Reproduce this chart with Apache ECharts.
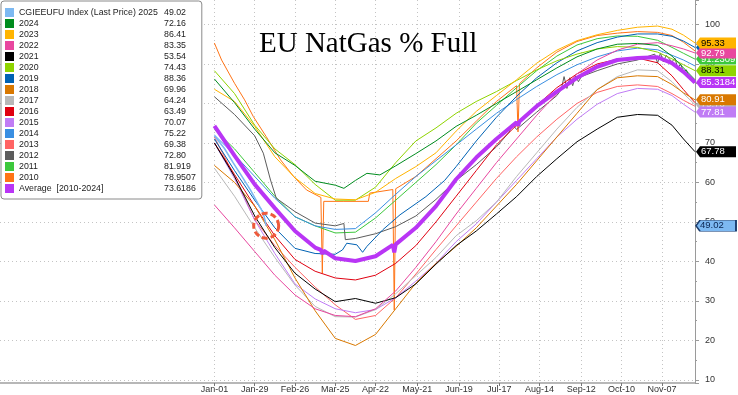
<!DOCTYPE html>
<html><head><meta charset="utf-8">
<script src="https://cdn.jsdelivr.net/npm/echarts@6/dist/echarts.min.js"></script>
<style>html,body{margin:0;padding:0;background:#fff}#c{width:738px;height:395px}</style>
</head><body><div id="c"></div>
<script>
// ---- axis / categories ----
const OFFSET = 149;          // empty days shown left of Jan-01
const LAST_DAY = 334;
const tickDays   = [0,28,56,84,112,141,170,198,226,255,283,311];
const tickLabels = ['Jan-01','Jan-29','Feb-26','Mar-25','Apr-22','May-21','Jun-19','Jul-17','Aug-14','Sep-12','Oct-10','Nov-07'];

// ---- series data (day of year, % full) ----
const D = [0,14,28,42,56,70,84,98,112,126,140,154,168,182,196,210,224,238,252,266,280,294,308,318,326,334];

const d2025 = [0,7,13,19,25,30,34,36];
const v2025 = [71.8,68.6,65,61.6,58.1,54.8,52.2,49.02];

const d2024 = [0,14,28,42,56,70,84,90,98,106,115,126,140,154,168,182,196,210,224,238,252,266,280,294,308,318,326,334];
const v2024 = [86.2,80.2,73.5,67.5,64.3,60.3,59.3,58.5,60.5,62.3,61.9,64.2,67.3,70.5,74.2,77,80,83,86,89,91.8,93.8,95,95.2,94.7,92,89,86];

const v2023 = [83.6,80.5,74.2,66.5,61.2,57.2,55.8,55.6,57.5,61,64,67.5,73,78,82,86,90.2,93.5,95.9,97.4,98.5,99.3,99.6,98.8,97.3,95.33];
const v2022 = [54.3,48.5,42.5,36.5,31.5,28,26.3,26,28,32.5,38.5,45,52,58.5,65,71,77,82.5,87.5,91,93.5,95,95.4,94.6,93.8,92.79];
const v2021 = [70,61.5,51.5,43.5,37,33,29.8,30.6,29.4,30.8,34.3,39.3,44,47.7,52,56.4,61.5,66,70.3,73.5,76.5,77.2,77,74.5,71,67.78];
const v2020 = [88.3,82.5,74.5,68.5,64.5,59.5,55.5,55.5,58.8,65,70.5,73.8,77.5,80.5,83,85.8,88.5,90.8,92.5,93.8,94.4,94.2,93,91.3,89.8,88.31];

const d2019 = [0,14,28,42,56,70,84,89,92,99,103,106,117,129,147,160,168,182,196,210,224,238,252,266,280,294,308,318,326,334];
const v2019 = [71,63,55.5,48.5,43.3,42,41.8,42.9,44.6,44.2,42.3,43.8,48,51.8,56.4,60.5,64,70.5,76.5,81.8,86.5,90.3,93.3,95.4,96.8,97.6,97.6,97,95.8,94.18];

const v2018 = [64.3,60,54,45.5,35.8,27.5,20.5,18.7,21.5,28,34.5,39.5,43.8,48.5,54,59.5,65.5,71.5,77.5,83.5,86.5,87,86.8,84.8,82.7,80.91];
const v2017 = [63.6,56.5,48.5,41,34,28.6,26,25.9,27.8,31.8,36.4,41,46.5,50.3,55,61.5,67.5,73.5,79,83.5,86.8,88.5,88.3,85.5,82.5,79.7];
const v2016 = [70,62,54,46.5,40.5,37.5,35.8,35.3,36.5,39.5,44,50,56.5,63,69.5,74.5,79.5,84,87.5,90,91.2,91.5,90.3,87,83.5,80.2];
const v2015 = [70,61,50.5,42,34.3,30.5,28,27,27.8,30.8,35,39.5,45,49.5,55,60.5,66,71.5,76,79.8,82.5,83.8,83.6,82,79.8,77.81];
const v2014 = [72,67,61.5,56,51.3,49,48.1,48.3,52.3,57,61.5,65.5,69.5,73.5,77.5,81,84.3,87.3,89.8,91.8,93.3,94,93.6,92.2,91,89.5];
const v2013 = [71.5,61.5,50.5,44,38.5,33.5,29,25.3,26.3,30.8,36.8,43,49,55,61,66.5,71.5,76,80,82.8,84.3,84.7,84.3,82.5,80.8,79.3];

const d2012 = [0,14,28,34,39,43,56,70,84,90,91,98,112,126,140,154,168,182,196,205,207,210,224,238,241,243,245,247,249,251,253,255,266,280,294,306,308,310,312,314,318,320,322,324,326,328,330,334];
const v2012 = [81.7,77.2,71.8,67.4,60.6,56,52.6,49.7,49,49.6,45.5,45.8,47,48.8,51.5,55.7,60.5,64.5,69,72.8,74.8,73.4,77.8,82,83.5,86.8,83.8,86.5,84.5,87,85.5,86.8,88.3,90,91,92.5,90.2,92.8,90.5,92.2,90.5,91.5,89,90,88,88.5,86.5,85.2];

const v2011 = [73.4,68.5,62.5,56.5,51.3,49,47.2,47.4,51,55.5,60,64.5,69.5,75,79.5,84,88.3,92,94.8,96.4,97.1,97,96,94.2,92.7,91.2309];

const d2010 = [0,5,14,21,27,36,46,55,64,74,75,76,90,107,108,124,125,126,140,154,168,182,196,210,211,212,224,238,252,266,280,294,308,318,326,334];
const v2010 = [95.3,91,85.1,80.9,76.7,71.6,65.7,61.5,58.1,56.2,37,55.2,55.2,55.2,57.3,58.2,27.7,58.4,61.5,66,70.5,75.5,80.5,84.5,72.8,85,89,93,95.7,97.2,97.8,98.2,98,97.2,95.5,93.3];

const dAvg = [0,14,28,42,56,70,74,75,76,84,98,112,124,125,126,140,154,168,182,196,210,211,212,224,238,252,266,280,294,308,318,326,334];
const vAvg = [74.3,66.8,59.5,53.5,47.7,43.5,42.9,41.9,42.7,40.8,40.1,41.3,44.2,42.3,44.3,48.5,54,60.8,66.3,71,75.2,74.4,75.4,79.3,83,86.5,89.3,91,91.5,91.7,90.2,88,85.3184];

// ---- legend ----
const legendNames  = ['CGIEEUFU Index (Last Price) 2025','2024','2023','2022','2021','2020','2019','2018','2017','2016','2015','2014','2013','2012','2011','2010','Average  [2010-2024]'];
const legendValues = ['49.02','72.16','86.41','83.35','53.54','74.43','88.36','69.96','64.24','63.49','70.07','75.22','69.38','72.80','81.919','78.9507','73.6186'];

// ---- right-axis tags (text) ----
const tagText = {'2023':'95.33','2022':'92.79','2011':'91.2309','2020':'88.31','Average  [2010-2024]':'85.3184',
  '2018':'80.91','2017':'79.70','2015':'77.81','2021':'67.78','CGIEEUFU Index (Last Price) 2025':'49.02','2019':'94.18'};

// ---- styles ----
const FONT = 'Liberation Sans';
const styles = [
  {name:'2010', days:d2010, vals:v2010, color:'#ff7416', w:1},
  {name:'2011', days:D, vals:v2011, color:'#3cc83c', w:1, tz:11, fg:'#fff'},
  {name:'2012', days:d2012, vals:v2012, color:'#5c5c5c', w:1},
  {name:'2013', days:D, vals:v2013, color:'#ff6464', w:1},
  {name:'2014', days:D, vals:v2014, color:'#3a8fe2', w:1},
  {name:'2015', days:D, vals:v2015, color:'#c07cf5', w:1, tz:13, fg:'#fff'},
  {name:'2016', days:D, vals:v2016, color:'#e00010', w:1},
  {name:'2017', days:D, vals:v2017, color:'#b8b8b8', w:1, tz:12, fg:'#fff'},
  {name:'2018', days:D, vals:v2018, color:'#d97800', w:1, tz:14, fg:'#fff'},
  {name:'2019', days:d2019, vals:v2019, color:'#0062b4', w:1, tz:10, fg:'#fff'},
  {name:'2020', days:D, vals:v2020, color:'#8fd400', w:1, tz:15, fg:'#000'},
  {name:'2021', days:D, vals:v2021, color:'#000000', w:1, tz:19, fg:'#fff'},
  {name:'2022', days:D, vals:v2022, color:'#e8479f', w:1, tz:16, fg:'#fff'},
  {name:'2023', days:D, vals:v2023, color:'#ffb400', w:1, tz:17, fg:'#000'},
  {name:'2024', days:d2024, vals:v2024, color:'#008c1e', w:1},
  {name:'Average  [2010-2024]', days:dAvg, vals:vAvg, color:'#b935f5', w:4, tz:18, fg:'#fff'},
  {name:'CGIEEUFU Index (Last Price) 2025', days:d2025, vals:v2025, color:'#7db9f2', w:1.6, tz:20, fg:'#0a2450', border:'#1b3d6e', circle:true}
];

const cats = [];
for (let d = -OFFSET; d <= LAST_DAY; d++) cats.push(String(d));
const isTick = (idx) => tickDays.indexOf(idx - OFFSET) >= 0;

const TAG_PATH = 'path://M0,5.5L4,0L40,0L40,11L4,11Z';
const series = styles.map(s => {
  const data = s.days.map((d, i) => [d + OFFSET, s.vals[i]]);
  const ser = {
    name: s.name, type: 'line', data: data, showSymbol: false, symbol: 'none',
    color: s.color, lineStyle: {color: s.color, width: s.w}, silent: true,
    emphasis: {disabled: true}, animation: false
  };
  const mp = [];
  if (tagText[s.name]) {
    const last = s.vals[s.vals.length - 1];
    mp.push({
      coord: [LAST_DAY + OFFSET, last], symbol: TAG_PATH, symbolSize: [40, 11], symbolOffset: [21, 0],
      itemStyle: {color: s.color, borderColor: s.border || s.color, borderWidth: s.border ? 1 : 0},
      label: {show: true, position: 'insideLeft', distance: 5, formatter: tagText[s.name],
        color: s.fg, fontSize: 9.5, fontFamily: FONT}
    });
  }
  if (s.circle) {
    const li = s.days.length - 1;
    mp.push({
      coord: [s.days[li] + OFFSET, s.vals[li]], symbol: 'circle', symbolSize: 25,
      itemStyle: {color: 'rgba(0,0,0,0)', borderColor: '#ee5a3c', borderWidth: 3, borderType: [6, 3]},
      label: {show: false}
    });
  }
  if (mp.length) ser.markPoint = {silent: true, animation: false, z: s.tz || 10, data: mp};
  return ser;
});

const chart = echarts.init(document.getElementById('c'), null, {renderer: 'canvas'});
chart.setOption({
  animation: false,
  backgroundColor: '#ffffff',
  title: {text: 'EU NatGas % Full', left: 259, top: 30, padding: 0,
    textStyle: {fontFamily: 'Liberation Serif', fontSize: 29, fontWeight: 'normal', color: '#000'}},
  legend: {
    left: 1, top: 1, orient: 'vertical', padding: [7, 6, 6, 4],
    backgroundColor: '#fff', borderColor: '#8a8a8a', borderWidth: 1, borderRadius: 3,
    icon: 'rect', itemWidth: 9, itemHeight: 9, itemGap: 2, selectedMode: false,
    itemStyle: {borderWidth: 0},
    data: legendNames,
    formatter: n => '{a|' + n + '}{b|' + legendValues[legendNames.indexOf(n)] + '}',
    textStyle: {fontFamily: FONT, fontSize: 8.8, color: '#222',
      rich: {a: {width: 145, fontFamily: FONT, fontSize: 8.8, lineHeight: 9, color: '#222'},
             b: {fontFamily: FONT, fontSize: 8.8, lineHeight: 9, color: '#222'}}},
    z: 20
  },
  grid: {left: 0, right: 43, top: 0, bottom: 12},
  xAxis: {
    type: 'category', data: cats, boundaryGap: false,
    axisLine: {lineStyle: {color: '#a0a0a0', width: 1.5}},
    axisTick: {interval: isTick, length: 3, lineStyle: {color: '#777'}},
    axisLabel: {interval: isTick, margin: 2, fontSize: 9, color: '#333', fontFamily: FONT,
      formatter: v => tickLabels[tickDays.indexOf(Number(v))] || ''},
    splitLine: {show: true, interval: isTick, lineStyle: {color: '#c4c4c4', type: [1, 3]}}
  },
  yAxis: {
    type: 'value', position: 'right', min: 9.2, max: 106.2, splitNumber: 10,
    axisLine: {show: true, lineStyle: {color: '#9a9a9a'}},
    axisTick: {show: true, length: 4, lineStyle: {color: '#9a9a9a'}},
    minorTick: {show: true, splitNumber: 2, length: 2, lineStyle: {color: '#9a9a9a'}},
    axisLabel: {margin: 10, fontSize: 9, color: '#333', fontFamily: FONT,
      formatter: v => (Math.abs(v / 10 - Math.round(v / 10)) < 1e-6 ? String(Math.round(v)) : ''),
      showMinLabel: false, showMaxLabel: false},
    splitLine: {show: true, showMinLine: false, showMaxLine: false, lineStyle: {color: '#c4c4c4', type: [1, 3]}}
  },
  series: series
});
</script></body></html>
